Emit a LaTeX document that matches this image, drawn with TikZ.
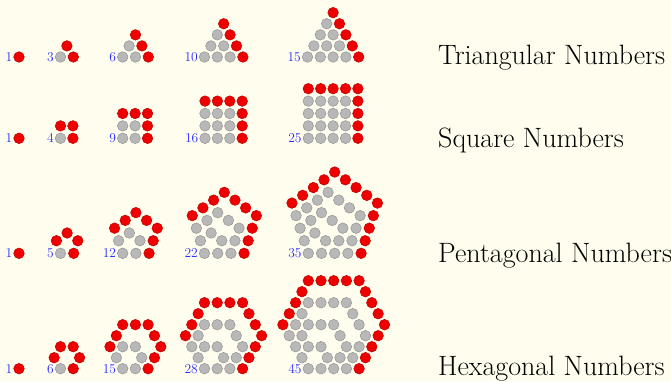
\documentclass[tikz,border=0pt]{standalone}
\usepackage{tikz}
\usepackage{xcolor}
\definecolor{paper}{RGB}{255,254,238}
\definecolor{numblue}{RGB}{40,40,255}
\definecolor{dotred}{RGB}{238,0,0}
\definecolor{dotgray}{RGB}{184,184,184}
\newcommand\dotr{5.3}
% #1 sides, #2 order, #3,#4 first dot, #5 spacing, #6 label name
\newcommand\figurate[6]{%
  \foreach \m in {1,...,#2}{
    \ifnum\m=#2 \def\dotstyle{reddot}\else\def\dotstyle{graydot}\fi
    \ifnum\m=1
      \path[\dotstyle] (#3,#4) circle (\dotr);
    \else
      \pgfmathtruncatemacro\a{\m-1}
      \pgfmathtruncatemacro\lastside{#1-2}
      \pgfmathsetmacro\th{360/#1}
      \foreach \i in {1,...,\lastside}{
        \pgfmathtruncatemacro\jstart{ifthenelse(\i==1,0,1)}
        \pgfmathsetmacro\R{\a*#5*sin(\i*\th/2)/sin(\th/2)}
        \foreach \j in {\jstart,...,\a}{
          \pgfmathsetmacro\px{#3+\R*cos((\i-1)*\th/2)+\j*#5*cos(\i*\th)}
          \pgfmathsetmacro\py{#4+\R*sin((\i-1)*\th/2)+\j*#5*sin(\i*\th)}
          \path[\dotstyle] (\px,\py) circle (\dotr);
        }
      }
    \fi
  }
  \pgfmathtruncatemacro\cnt{((#1-2)*#2*#2-(#1-4)*#2)/2}
  \node[count] (#6) at (#3-6.5,#4) {\cnt};
}

\begin{document}
\begin{tikzpicture}[x=1pt,y=1pt,
  reddot/.style={fill=dotred,draw=dotred!80!black,line width=0.5pt},
  graydot/.style={fill=dotgray,draw=dotgray!80!black,line width=0.5pt},
  count/.style={anchor=east,inner sep=0pt,text=numblue,font=\fontsize{13.5}{16}\selectfont},
  title/.style={anchor=base west,inner sep=0pt,font=\fontsize{28}{33}\selectfont}]
\useasboundingbox (0,0) rectangle (671,381);
\fill[paper] (0,0) rectangle (671,381);

\foreach \n/\xo in {1/19,2/60.5,3/122.7,4/204.5,5/307.5}{\figurate{3}{\n}{\xo}{324}{12.8}{tri\n}}
\foreach \n/\xo in {1/19,2/60.5,3/122.7,4/205,5/308.3}{\figurate{4}{\n}{\xo}{242.7}{12.4}{sq\n}}
\foreach \n/\xo in {1/19,2/60.5,3/122.7,4/204.5,5/308.3}{\figurate{5}{\n}{\xo}{127.7}{13.2}{pent\n}}
\foreach \n/\xo in {1/19,2/60.5,3/122.7,4/204.5,5/308.3}{\figurate{6}{\n}{\xo}{12.3}{12.7}{hex\n}}

\node[title] (tri) at (438,316.7) {Triangular Numbers};
\node[title] (sq) at (438,233.7) {Square Numbers};
\node[title] (pent) at (438,118.7) {Pentagonal Numbers};
\node[title] (hex) at (438,5.5) {Hexagonal Numbers};
\end{tikzpicture}
\end{document}
